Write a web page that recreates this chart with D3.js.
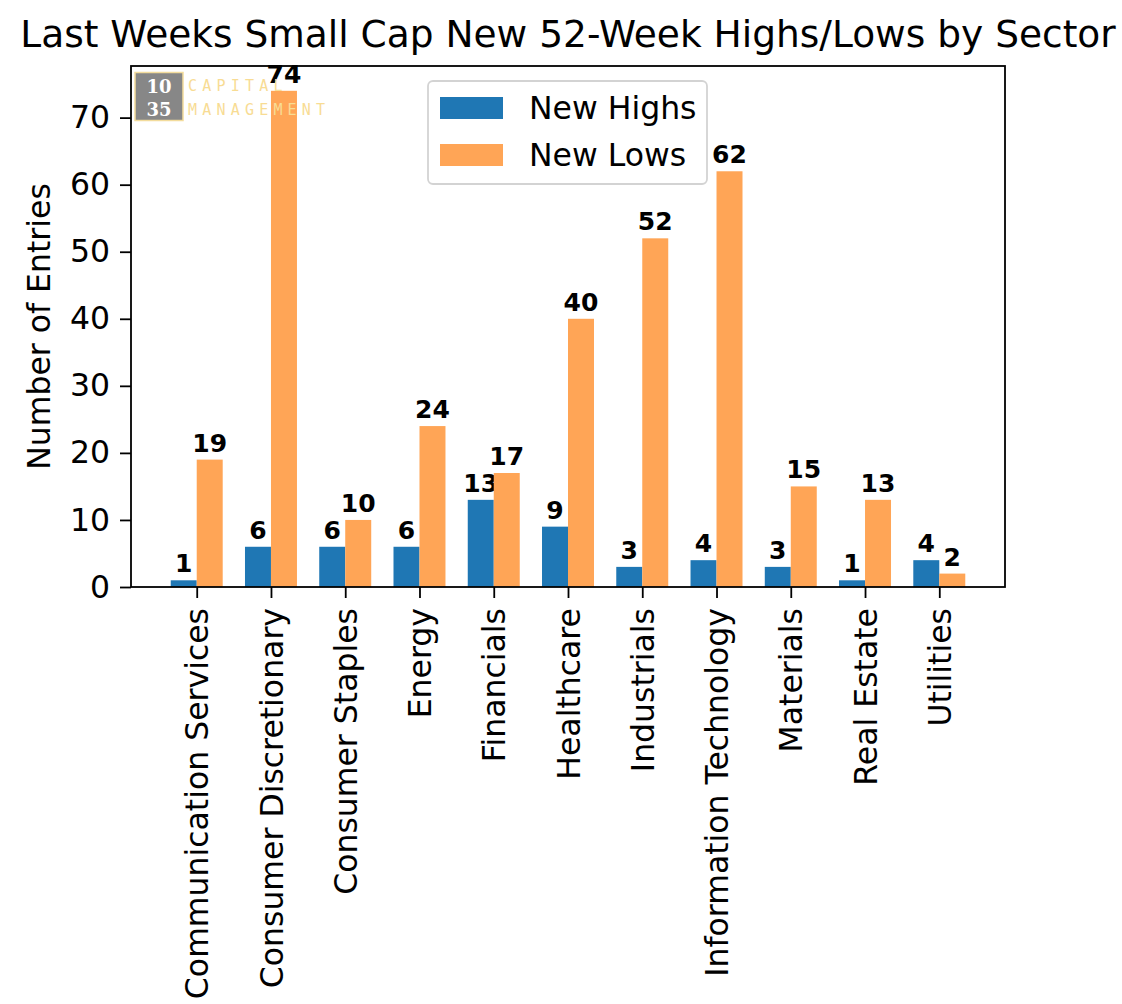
<!DOCTYPE html>
<html><head><meta charset="utf-8">
<script src="https://cdn.jsdelivr.net/npm/d3@7"></script>
<style>body{margin:0;background:#fff}svg{display:block}text{font-family:"DejaVu Sans",sans-serif}</style>
</head><body>
<svg id="c" width="1122" height="1004"></svg>
<script>
const categories = ["Communication Services","Consumer Discretionary","Consumer Staples","Energy","Financials","Healthcare","Industrials","Information Technology","Materials","Real Estate","Utilities"];
const newHighs = [1,6,6,6,13,9,3,4,3,1,4];
const newLows  = [19,74,10,24,17,40,52,62,15,13,2];
const yTicks = [0,10,20,30,40,50,60,70];
const seriesNames = ["New Highs","New Lows"];
const colors = ["#1f77b4","#ffa556"];

const svg = d3.select("#c");
const L=131, R=1005, T=66, B=587;
const bw = 0.35;
const x = d3.scaleLinear().domain([-0.885, categories.length-1+0.885]).range([L,R]);
const y = d3.scaleLinear().domain([0, 77.7]).range([B,T]);

// title
svg.append("text").attr("x",(L+R)/2).attr("y",47).attr("text-anchor","middle")
  .attr("font-size",37.5).text("Last Weeks Small Cap New 52-Week Highs/Lows by Sector");

// bars
const g = svg.append("g");
const series = [newHighs,newLows];
series.forEach((vals,si)=>{
  vals.forEach((v,i)=>{
    const x0 = si===0 ? x(i-bw) : x(i);
    const x1 = si===0 ? x(i) : x(i+bw);
    g.append("rect").attr("x",x0).attr("width",x1-x0).attr("y",y(v)).attr("height",y(0)-y(v)).attr("fill",colors[si]);
    g.append("text").attr("x",(x0+x1)/2).attr("y",y(v)-8).attr("text-anchor","middle")
      .attr("font-size",25).attr("font-weight","bold").text(v);
  });
});

// watermark logo
const wm = svg.append("g");
wm.append("rect").attr("x",135).attr("y",72.5).attr("width",48).attr("height",48).attr("fill","#878787").attr("stroke","#f3dc9c").attr("stroke-width",1.5);
wm.append("text").attr("x",159).attr("y",93).attr("text-anchor","middle").attr("fill","#fff").attr("font-size",18).attr("font-weight","bold").style("font-family","DejaVu Serif,serif").text("10");
wm.append("text").attr("x",159).attr("y",116).attr("text-anchor","middle").attr("fill","#fff").attr("font-size",18).attr("font-weight","bold").style("font-family","DejaVu Serif,serif").text("35");
wm.append("text").attr("x",188).attr("y",91).attr("fill","#f8dc94").attr("font-size",15).attr("letter-spacing",5.2).style("font-family","DejaVu Sans Mono,monospace").text("CAPITAL");
wm.append("text").attr("x",188).attr("y",115).attr("fill","#f8dc94").attr("font-size",15).attr("letter-spacing",5.2).style("font-family","DejaVu Sans Mono,monospace").text("MANAGEMENT");

// frame
svg.append("rect").attr("x",L).attr("y",T).attr("width",R-L).attr("height",B-T).attr("fill","none").attr("stroke","#000").attr("stroke-width",1.8);

// y axis
const ya = svg.append("g").attr("transform",`translate(${L},0)`)
  .call(d3.axisLeft(y).tickValues(yTicks).tickSize(11).tickPadding(10));
ya.select(".domain").remove();
ya.selectAll("line").attr("stroke","#000").attr("stroke-width",1.8);
ya.selectAll("text").attr("font-size",31.5).attr("fill","#000").style("font-family","DejaVu Sans");

// x axis
const xa = svg.append("g").attr("transform",`translate(0,${B})`)
  .call(d3.axisBottom(x).tickValues(d3.range(categories.length)).tickFormat(i=>categories[i]).tickSize(11).tickPadding(0));
xa.select(".domain").remove();
xa.selectAll("line").attr("stroke","#000").attr("stroke-width",1.8);
xa.selectAll("text").attr("font-size",31.5).attr("fill","#000").style("font-family","DejaVu Sans")
  .attr("transform","rotate(-90)").attr("text-anchor","end").attr("x",-21).attr("y",0).attr("dy","0.35em");

// y label
svg.append("text").attr("transform",`translate(50,${(T+B)/2}) rotate(-90)`).attr("text-anchor","middle")
  .attr("font-size",31.5).text("Number of Entries");

// legend
const lg = svg.append("g");
lg.append("rect").attr("x",428).attr("y",81).attr("width",279).attr("height",103).attr("rx",5)
  .attr("fill","#fff").attr("fill-opacity",0.8).attr("stroke","#d3d3d3").attr("stroke-width",1.8);
seriesNames.forEach((n,i)=>{
  lg.append("rect").attr("x",440).attr("y",97+i*47).attr("width",63).attr("height",22).attr("fill",colors[i]);
  lg.append("text").attr("x",529).attr("y",119+i*47).attr("font-size",31.5).text(n);
});
</script>
</body></html>
